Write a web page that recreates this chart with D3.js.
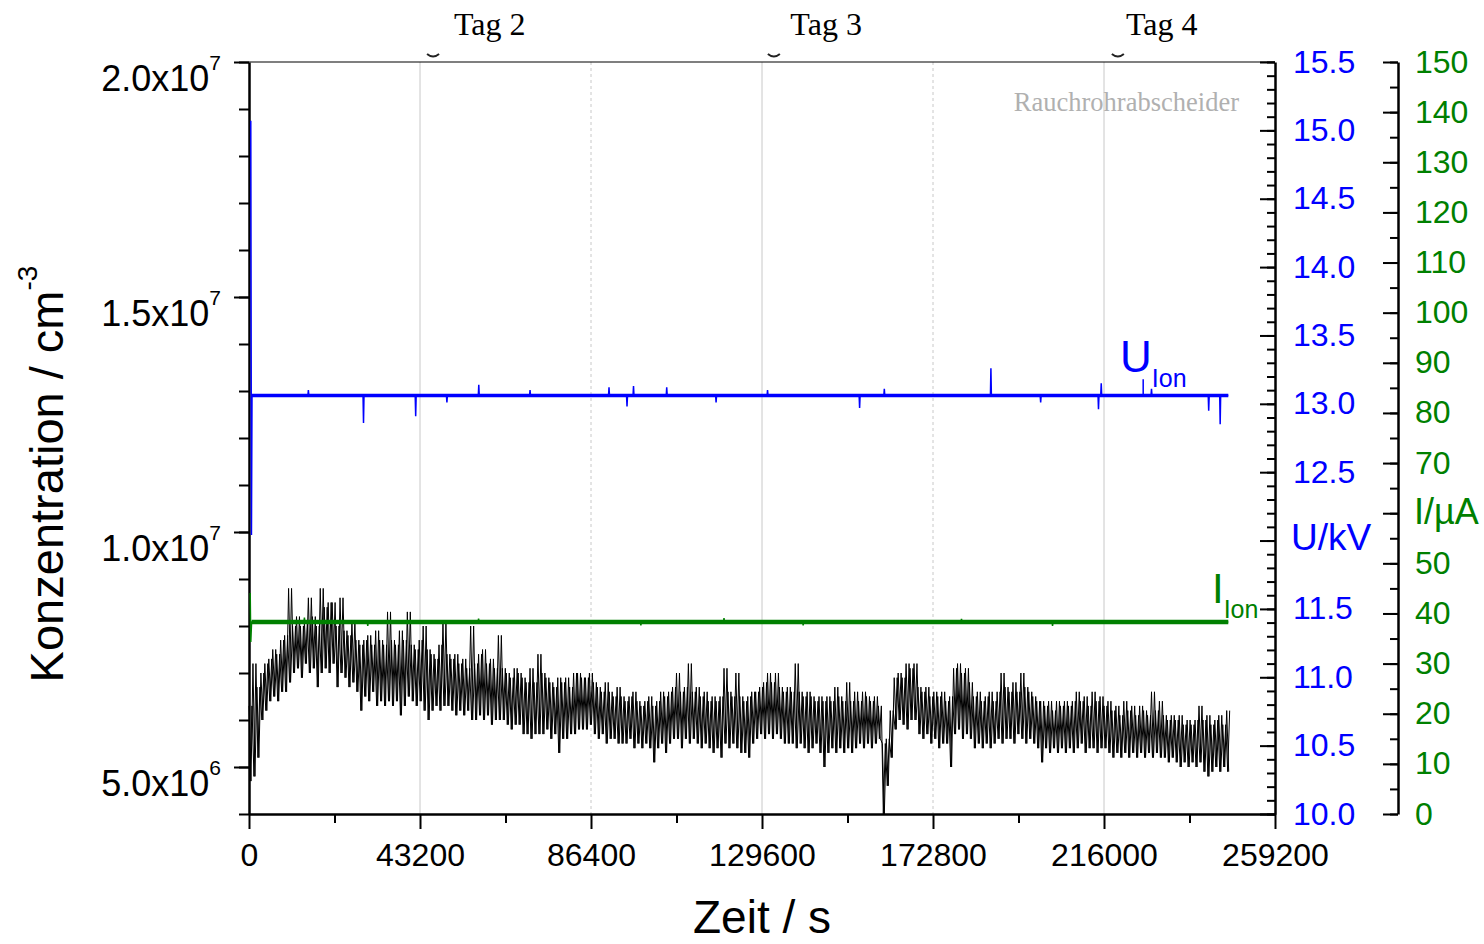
<!DOCTYPE html>
<html>
<head>
<meta charset="utf-8">
<script src="https://cdn.jsdelivr.net/npm/d3@7"></script>
<style>
body{margin:0;background:#fff;}
svg text{font-family:"Liberation Sans",Arial,sans-serif;}
</style>
</head>
<body>
<svg id="chart" width="1484" height="944"></svg>
<script>
// axis ticks
var xTicks = [0, 43200, 86400, 129600, 172800, 216000, 259200];
var concTicks = [5e6, 1e7, 1.5e7, 2e7];
var uTicks = [10.0, 10.5, 11.0, 11.5, 12.0, 12.5, 13.0, 13.5, 14.0, 14.5, 15.0, 15.5];
var uLabels = ["10.0", "10.5", "11.0", "11.5", "", "12.5", "13.0", "13.5", "14.0", "14.5", "15.0", "15.5"];
var iTicks = [0, 10, 20, 30, 40, 50, 60, 70, 80, 90, 100, 110, 120, 130, 140, 150];
var iLabels = ["0", "10", "20", "30", "40", "50", "", "70", "80", "90", "100", "110", "120", "130", "140", "150"];

// day labels on top (seconds)
var tagNames = ["Tag 2", "Tag 3", "Tag 4"];
var tagTimes = [60800, 145800, 230600];
var tagMarkTimes = [46500, 132600, 219500];

// particle concentration, 1000 s bins, upper / lower envelope in 1e5 cm^-3
var concStep = 1000;
var concHi = [63,72,67,70,72,73,75,74,77,78, 88,80,82,80,81,86,82,80,88,84,
  85,85,80,86,79,78,81,77,76,77, 78,76,79,77,76,83,77,76,79,77,
  83,76,75,77,80,75,74,73,76,81, 74,73,74,72,73,71,80,72,74,75,
  72,73,71,78,71,70,69,71,70,69, 68,71,68,74,70,69,68,67,69,68,
  69,67,70,70,69,69,70,68,67,66, 68,66,65,67,65,64,65,66,64,63,
  64,65,63,64,66,65,66,67,70,66, 67,72,66,67,65,66,64,65,64,65,
  71,66,65,70,65,64,65,66,66,67, 68,70,68,70,67,66,67,66,72,66,
  65,66,65,64,65,64,65,64,67,65, 64,68,64,66,64,66,65,64,65,63,
  55,56,62,69,70,69,72,71,72,67, 66,67,65,66,65,66,64,65,71,72,
  70,71,68,65,66,64,65,66,64,66, 70,67,66,68,66,70,67,66,65,64,
  64,63,64,62,64,63,64,63,64,66, 64,65,63,66,64,65,63,64,62,63,
  61,64,62,63,61,63,62,61,66,62, 64,61,60,61,60,61,59,60,59,60,
  63,60,61,59,60,61,59,62];
var concLo = [47,48,52,60,62,64,65,64,66,66, 68,70,71,69,72,70,71,67,70,71,
  70,72,67,70,69,67,68,66,62,65, 64,66,63,64,63,64,63,64,61,63,
  65,64,63,64,62,60,62,63,62,63, 63,62,61,62,61,62,60,60,61,60,
  61,59,60,60,60,59,58,59,59,57, 57,56,57,57,57,58,56,57,53,56,
  56,57,57,58,58,58,59,57,56,57, 55,56,56,55,55,55,56,54,55,54,
  55,54,51,54,55,53,55,56,56,54, 56,55,56,55,54,55,54,53,54,52,
  55,54,55,54,53,53,52,55,56,57, 56,57,56,57,56,55,55,55,54,55,
  54,53,54,55,53,50,53,54,53,54, 53,54,53,54,55,54,55,54,55,56,
  40,46,52,58,60,59,58,60,60,57, 56,57,55,56,54,55,55,50,57,58,
  56,57,56,54,55,54,55,54,55,56, 55,56,56,55,57,56,55,56,55,54,
  51,54,53,54,53,54,53,54,53,54, 55,53,54,54,53,54,54,53,52,53,
  52,53,52,53,52,53,52,53,52,53, 52,52,51,52,51,50,51,50,51,50,
  51,49,48,49,50,49,50,49];

// ion voltage U (kV): start transient, spikes on a flat base
var uBase = 13.06;
var uStartT = [450, 620, 760];
var uStartV = [15.07, 12.04, 13.06];
var uSpikeT = [15000, 28930, 42110, 50000, 58050, 71000, 90950, 95500, 97140, 105530, 118000, 131000, 154260, 160500, 187430, 200000, 214610, 215300, 228000, 242450, 245350];
var uSpikeV = [13.10, 12.86, 12.91, 13.01, 13.14, 13.10, 13.12, 12.98, 13.13, 13.12, 13.01, 13.10, 12.97, 13.11, 13.26, 13.01, 12.96, 13.15, 13.11, 12.95, 12.85];
var uEndT = 247400;

// ion current I (uA)
var iBase = 38.3;
var iStartT = [300, 450, 650];
var iStartV = [44.1, 34.3, 38.3];
var iSpikeT = [14000, 30000, 58000, 99000, 120000, 140000, 180000, 203000];
var iSpikeV = [39.2, 37.5, 39.0, 37.6, 39.1, 37.6, 38.9, 37.5];
var iEndT = 247400;

var svg = d3.select("#chart");
var x = d3.scaleLinear().domain([0, 259200]).range([249, 1275]);
var yC = d3.scaleLinear().domain([4e6, 2e7]).range([814, 62]);
var yU = d3.scaleLinear().domain([10, 15.5]).range([814, 62]);
var yI = d3.scaleLinear().domain([0, 150]).range([814, 62]);
var BLUE = "#0000ff", GREEN = "#008000";

// grid
svg.append("g").selectAll("line")
	.data(xTicks.slice(1, -1))
	.enter().append("line")
	.attr("x1", function(d){ return x(d); }).attr("x2", function(d){ return x(d); })
	.attr("y1", 62).attr("y2", 814)
	.attr("stroke", "#c8c8c8").attr("stroke-width", 1)
	.attr("stroke-dasharray", function(d, i){ return i % 2 ? "3,3" : null; });

// top frame
svg.append("line").attr("x1", 249).attr("x2", 1275).attr("y1", 62).attr("y2", 62)
	.attr("stroke", "#000").attr("stroke-width", 1.2);

// top day labels
svg.append("g").selectAll("path").data(tagMarkTimes).enter().append("path")
	.attr("d", function(d){ var px = x(d); return "M" + (px - 6) + ",54 Q" + px + ",59 " + (px + 6) + ",54"; })
	.attr("fill", "none").attr("stroke", "#222").attr("stroke-width", 2);
svg.append("g").selectAll("text").data(tagNames).enter().append("text")
	.attr("x", function(d, i){ return x(tagTimes[i]); }).attr("y", 35)
	.attr("text-anchor", "middle")
	.style("font-family", "'Liberation Serif','Times New Roman',serif")
	.style("font-size", "32px").text(function(d){ return d; });

svg.append("text").attr("x", 1239).attr("y", 111).attr("text-anchor", "end")
	.style("font-family", "'Liberation Serif','Times New Roman',serif")
	.style("font-size", "26.5px").style("fill", "#b0b0b0").text("Rauchrohrabscheider");

function styleAxis(g, w){
	g.select(".domain").attr("stroke-width", w);
	g.selectAll(".tick line").attr("stroke-width", 2);
}

// bottom axis
var gxMinor = svg.append("g").attr("transform", "translate(0,814)")
	.call(d3.axisBottom(x).tickValues(d3.range(21600, 259200, 43200)).tickSize(9).tickFormat(""));
gxMinor.select(".domain").remove();
gxMinor.selectAll(".tick line").attr("stroke-width", 2);
var gx = svg.append("g").attr("transform", "translate(0,814)")
	.call(d3.axisBottom(x).tickValues(xTicks).tickSize(15).tickSizeOuter(0).tickPadding(14).tickFormat(d3.format("d")));
styleAxis(gx, 2.5);
gx.selectAll("text").style("font-size", "32px").style("font-family", "'Liberation Sans',Arial,sans-serif");

// left axis
var gyMinor = svg.append("g").attr("transform", "translate(249,0)")
	.call(d3.axisLeft(yC).tickValues(d3.range(4e6, 2e7 + 1, 1e6)).tickSize(10).tickFormat(""));
gyMinor.select(".domain").remove();
gyMinor.selectAll(".tick line").attr("stroke-width", 2);
var gy = svg.append("g").attr("transform", "translate(249,0)")
	.call(d3.axisLeft(yC).tickValues(concTicks).tickSize(15).tickSizeOuter(0).tickFormat(""));
styleAxis(gy, 2.5);
var cl = svg.append("g").selectAll("text").data(concTicks).enter().append("text")
	.attr("x", 221).attr("y", function(d){ return yC(d) + 29; })
	.attr("text-anchor", "end").style("font-size", "36px");
cl.append("tspan").text(function(d){
	var e = Math.floor(Math.log10(d));
	return (d / Math.pow(10, e)).toFixed(1) + "x10";
});
cl.append("tspan").attr("dy", -21).style("font-size", "21px")
	.text(function(d){ return Math.floor(Math.log10(d)); });

// blue axis (U)
var guMinor = svg.append("g").attr("transform", "translate(1275,0)")
	.call(d3.axisLeft(yU).tickValues(d3.range(10, 15.55, 0.1)).tickSize(8).tickFormat(""));
guMinor.select(".domain").remove();
guMinor.selectAll(".tick line").attr("stroke-width", 2);
var gu = svg.append("g").attr("transform", "translate(1275,0)")
	.call(d3.axisLeft(yU).tickValues(uTicks).tickSize(15).tickSizeOuter(0).tickFormat(""));
styleAxis(gu, 2.5);
svg.append("g").selectAll("text").data(uTicks).enter().append("text")
	.attr("x", 1293).attr("y", function(d){ return yU(d) + 10.5; })
	.style("font-size", "32px").style("fill", BLUE)
	.text(function(d, i){ return uLabels[i]; });
svg.append("text").attr("x", 1291).attr("y", 550).style("font-size", "37px").style("fill", BLUE).text("U/kV");

// green axis (I)
var giMinor = svg.append("g").attr("transform", "translate(1398,0)")
	.call(d3.axisLeft(yI).tickValues(d3.range(0, 151, 5)).tickSize(8).tickFormat(""));
giMinor.select(".domain").remove();
giMinor.selectAll(".tick line").attr("stroke-width", 2);
var gi = svg.append("g").attr("transform", "translate(1398,0)")
	.call(d3.axisLeft(yI).tickValues(iTicks).tickSize(15).tickSizeOuter(0).tickFormat(""));
styleAxis(gi, 2.5);
svg.append("g").selectAll("text").data(iTicks).enter().append("text")
	.attr("x", 1415).attr("y", function(d){ return yI(d) + 10.5; })
	.style("font-size", "32px").style("fill", GREEN)
	.text(function(d, i){ return iLabels[i]; });
svg.append("text").attr("x", 1414).attr("y", 524).style("font-size", "36px").style("fill", GREEN).text("I/\u00b5A");

// axis titles
var yt = svg.append("text").attr("transform", "translate(63,474) rotate(-90)")
	.attr("text-anchor", "middle").style("font-size", "47px");
yt.append("tspan").text("Konzentration / cm");
yt.append("tspan").attr("dy", -26).style("font-size", "28px").text("-3");
svg.append("text").attr("x", 762).attr("y", 933).attr("text-anchor", "middle")
	.style("font-size", "46px").text("Zeit / s");

// series
function spikePoints(startT, startV, spT, spV, base, endT){
	var pts = startT.map(function(t, i){ return [t, startV[i]]; });
	spT.forEach(function(t, i){
		pts.push([t - 120, base]); pts.push([t, spV[i]]); pts.push([t + 120, base]);
	});
	pts.push([endT, base]);
	return pts;
}

// two interleaved passes through the envelope so the band fills like the dense raw trace
var concLine = d3.line().x(function(d){ return x(d[0]); }).y(function(d){ return yC(d[1]); });
var concA = [], concB = [];
concHi.forEach(function(h, i){
	concA.push([i * concStep, h * 1e5]);
	concA.push([i * concStep + concStep / 2, concLo[i] * 1e5]);
	concB.push([i * concStep + concStep / 4, concLo[i] * 1e5]);
	concB.push([i * concStep + 3 * concStep / 4, h * 1e5]);
});
[concA, concB].forEach(function(pts){
	svg.append("path").datum(pts).attr("d", concLine)
		.attr("fill", "none").attr("stroke", "#000").attr("stroke-width", 1);
});

var iPts = spikePoints(iStartT, iStartV, iSpikeT, iSpikeV, iBase, iEndT);
var iLine = d3.line().x(function(d){ return x(d[0]); }).y(function(d){ return yI(d[1]); });
svg.append("path").datum([[iStartT[2], iBase], [iEndT, iBase]]).attr("d", iLine)
	.attr("fill", "none").attr("stroke", GREEN).attr("stroke-width", 4.5);
svg.append("path").datum(iPts).attr("d", iLine)
	.attr("fill", "none").attr("stroke", GREEN).attr("stroke-width", 1.5);

var uPts = spikePoints(uStartT, uStartV, uSpikeT, uSpikeV, uBase, uEndT);
var uLine = d3.line().x(function(d){ return x(d[0]); }).y(function(d){ return yU(d[1]); });
svg.append("path").datum([[uStartT[2], uBase], [uEndT, uBase]]).attr("d", uLine)
	.attr("fill", "none").attr("stroke", BLUE).attr("stroke-width", 3.5);
svg.append("path").datum(uPts).attr("d", uLine)
	.attr("fill", "none").attr("stroke", BLUE).attr("stroke-width", 1.5);

// series labels
var uLab = svg.append("text").attr("x", 1120).attr("y", 372).style("fill", BLUE).style("font-size", "44px");
uLab.append("tspan").text("U");
uLab.append("tspan").attr("dy", 15).style("font-size", "25px").text("Ion");
svg.append("line").attr("x1", x(225900)).attr("x2", x(225900))
	.attr("y1", yU(13.18)).attr("y2", yU(uBase))
	.attr("stroke", BLUE).attr("stroke-width", 1.5);
var iLab = svg.append("text").attr("x", 1212).attr("y", 603).style("fill", GREEN).style("font-size", "42px");
iLab.append("tspan").text("I");
iLab.append("tspan").attr("dy", 15).style("font-size", "25px").text("Ion");
</script>
</body>
</html>
